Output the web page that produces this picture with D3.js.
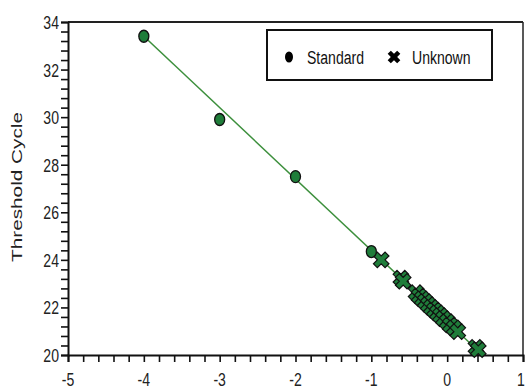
<!DOCTYPE html>
<html>
<head>
<meta charset="utf-8">
<script src="https://cdn.jsdelivr.net/npm/d3@7"></script>
<style>
  html, body { margin: 0; padding: 0; background: #fff; }
  svg { display: block; }
  .lbl { font-family: "Liberation Sans", Arial, sans-serif; }
</style>
</head>
<body>
<svg id="chart" width="526" height="390"></svg>
<script>
// ---- data ----
const standardX = [-4, -3, -2, -1];
const standardY = [33.4, 29.9, 27.5, 24.35];
const unknownX = [-0.87, -0.61, -0.58, -0.41, -0.37, -0.33, -0.29, -0.25, -0.21, -0.17, -0.13, -0.09, -0.05, 0.0, 0.04, 0.09, 0.14, 0.38, 0.41];
const unknownY = [24.0, 23.23, 23.1, 22.62, 22.48, 22.36, 22.25, 22.12, 22.0, 21.89, 21.77, 21.66, 21.53, 21.4, 21.26, 21.14, 20.98, 20.32, 20.22];
const fitX = [-4, 0.45];
const fitY = [33.4, 20.05];
const xTickLabels = [-5, -4, -3, -2, -1, 0, 1];
const yTickLabels = [20, 22, 24, 26, 28, 30, 32, 34];
const yTitle = "Threshold Cycle";
const legendItems = ["Standard", "Unknown"];

// ---- layout ----
const svg = d3.select("#chart");
const L = 68, T = 22, R = 523, B = 355;
const x = d3.scaleLinear().domain([-5, 1]).range([L, R]);
const y = d3.scaleLinear().domain([20, 34]).range([B, T]);
const green = "#1f7d3a";
const lineGreen = "#3c8f3c";
const SX = 0.74; // horizontal squeeze of label glyphs

function narrowText(sel, px, py, anchor) {
  return sel.attr("class", "lbl")
    .attr("transform", (d, i) => `translate(${px(d, i)},${py(d, i)}) scale(${SX},1)`)
    .attr("text-anchor", anchor);
}

// frame top and right
svg.append("line").attr("x1", L).attr("x2", R).attr("y1", T).attr("y2", T)
  .attr("stroke", "#222").attr("stroke-width", 2);
svg.append("line").attr("x1", R).attr("x2", R).attr("y1", T).attr("y2", B)
  .attr("stroke", "#222").attr("stroke-width", 1.5);

// x axis
const xMinor = d3.range(-5, 1.0001, 0.2);
const gx = svg.append("g").attr("transform", `translate(0,${B})`)
  .call(d3.axisBottom(x).tickValues(xMinor).tickSize(7).tickFormat(""));
gx.select(".domain").attr("stroke", "#111").attr("stroke-width", 2);
gx.selectAll(".tick line").attr("stroke", "#111").attr("stroke-width", 1.6);
svg.append("g").selectAll("text").data(xTickLabels).join("text")
  .call(narrowText, d => Math.min(x(d), 521), () => B + 31, "middle")
  .attr("font-size", 19).attr("fill", "#222")
  .text(d => d < 0 ? "-" + Math.abs(d) : d);

// y axis
const yMinor = d3.range(20, 34.0001, 0.4);
const gy = svg.append("g").attr("transform", `translate(${L},0)`)
  .call(d3.axisLeft(y).tickValues(yMinor).tickSize(7).tickFormat(""));
gy.select(".domain").attr("stroke", "#111").attr("stroke-width", 2);
gy.selectAll(".tick line").attr("stroke", "#111").attr("stroke-width", 1.6);
svg.append("g").selectAll("text").data(yTickLabels).join("text")
  .call(narrowText, () => L - 9, d => y(d) + 7, "end")
  .attr("font-size", 19).attr("fill", "#222")
  .text(d => d);

// y title
svg.append("text")
  .attr("transform", `translate(22,187) rotate(-90)`)
  .attr("text-anchor", "middle")
  .attr("font-family", "Liberation Sans, Arial, sans-serif")
  .attr("font-size", 15).attr("fill", "#222")
  .attr("textLength", 150).attr("lengthAdjust", "spacingAndGlyphs")
  .text(yTitle);

// fit line
svg.append("line")
  .attr("x1", x(fitX[0])).attr("y1", y(fitY[0]))
  .attr("x2", x(fitX[1])).attr("y2", y(fitY[1]))
  .attr("stroke", lineGreen).attr("stroke-width", 1.5);

// unknown markers (thick X)
const xSym = d3.symbol().type(d3.symbolCross).size(150);
svg.append("g").selectAll("path").data(unknownX.map((v, i) => [v, unknownY[i]])).join("path")
  .attr("d", xSym)
  .attr("transform", d => `translate(${x(d[0])},${y(d[1])}) rotate(45)`)
  .attr("fill", green).attr("stroke", "#111").attr("stroke-width", 1.2);

// standard markers
svg.append("g").selectAll("ellipse").data(standardX.map((v, i) => [v, standardY[i]])).join("ellipse")
  .attr("cx", d => x(d[0])).attr("cy", d => y(d[1]))
  .attr("rx", 5).attr("ry", 6)
  .attr("fill", green).attr("stroke", "#111").attr("stroke-width", 1.3);

// legend
const lg = svg.append("g");
lg.append("rect").attr("x", 267).attr("y", 30).attr("width", 225).attr("height", 50)
  .attr("fill", "#fff").attr("stroke", "#111").attr("stroke-width", 2);
lg.append("ellipse").attr("cx", 289).attr("cy", 57).attr("rx", 4).attr("ry", 5.5).attr("fill", "#000");
lg.append("text").datum(0).call(narrowText, () => 307, () => 64, "start")
  .attr("font-size", 19).attr("fill", "#111").text(legendItems[0]);
lg.append("path").attr("d", d3.symbol().type(d3.symbolCross).size(100))
  .attr("transform", "translate(394,57) rotate(45)").attr("fill", "#000");
lg.append("text").datum(1).call(narrowText, () => 412, () => 64, "start")
  .attr("font-size", 19).attr("fill", "#111").text(legendItems[1]);
</script>
</body>
</html>
